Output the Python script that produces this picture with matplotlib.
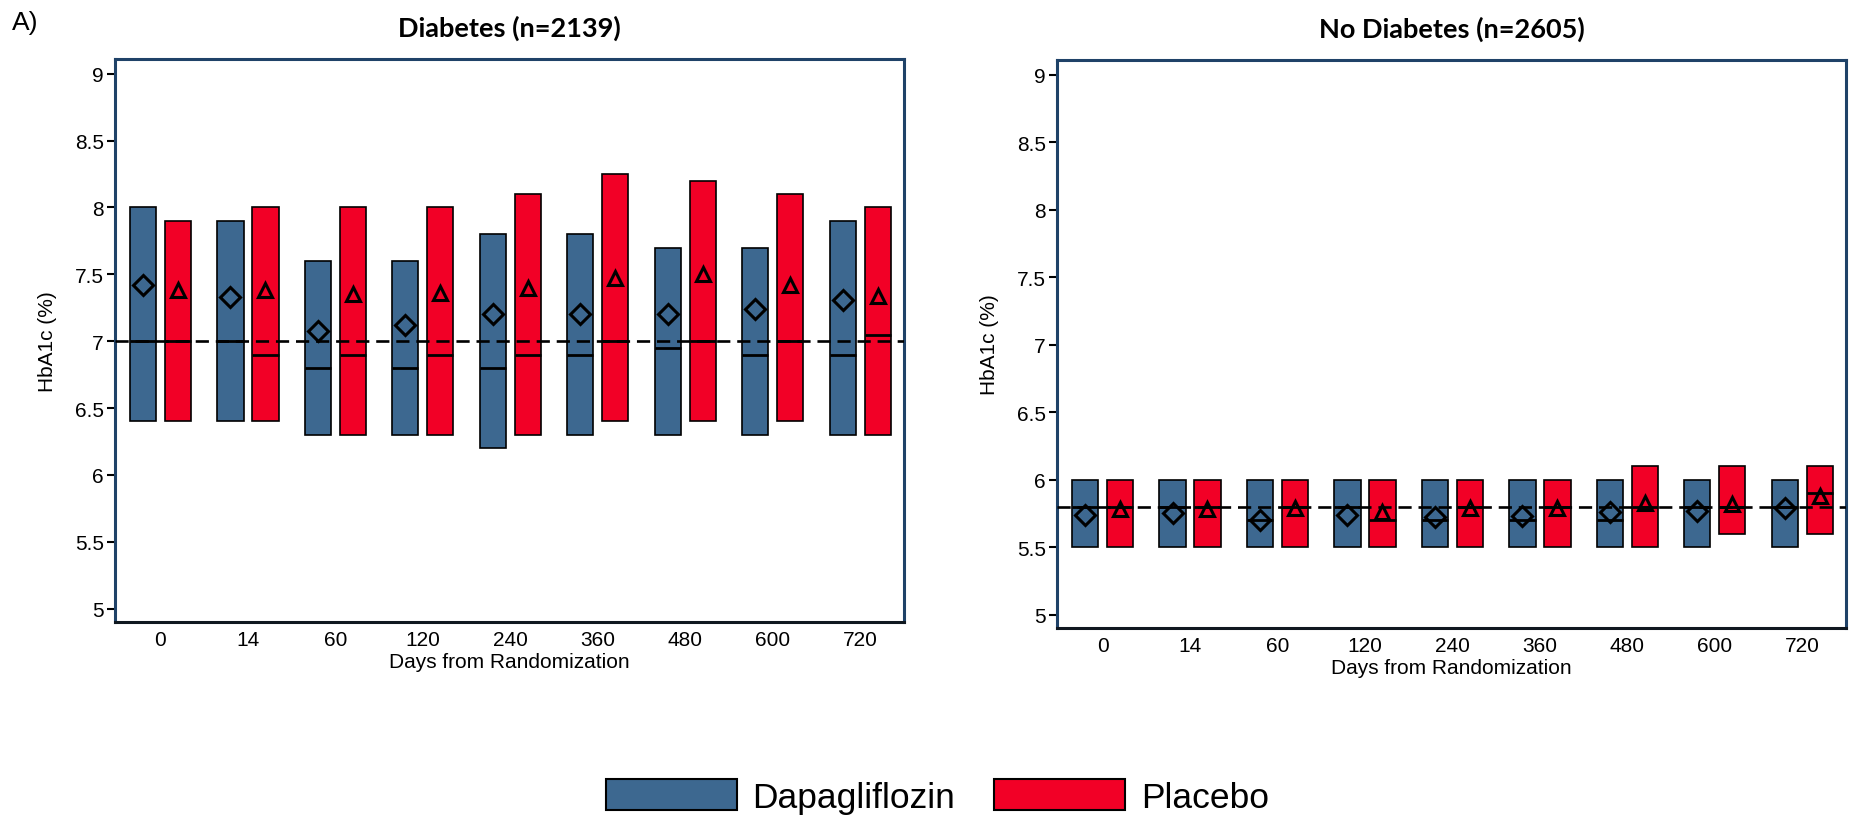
import numpy as np
import matplotlib
matplotlib.use('Agg')
import matplotlib.pyplot as plt
from matplotlib.patches import Patch

days = ['0', '14', '60', '120', '240', '360', '480', '600', '720']

# Diabetes: box = 25th-75th percentile, line = median, marker = mean
dm_dapa_q1 = [6.4, 6.4, 6.3, 6.3, 6.2, 6.3, 6.3, 6.3, 6.3]
dm_dapa_q3 = [8.0, 7.9, 7.6, 7.6, 7.8, 7.8, 7.7, 7.7, 7.9]
dm_dapa_med = [7.0, 7.0, 6.8, 6.8, 6.8, 6.9, 6.95, 6.9, 6.9]
dm_dapa_mean = [7.42, 7.33, 7.08, 7.12, 7.20, 7.20, 7.20, 7.24, 7.31]

dm_plac_q1 = [6.4, 6.4, 6.3, 6.3, 6.3, 6.4, 6.4, 6.4, 6.3]
dm_plac_q3 = [7.9, 8.0, 8.0, 8.0, 8.1, 8.25, 8.2, 8.1, 8.0]
dm_plac_med = [7.0, 6.9, 6.9, 6.9, 6.9, 7.0, 7.0, 7.0, 7.05]
dm_plac_mean = [7.38, 7.38, 7.35, 7.36, 7.40, 7.47, 7.50, 7.42, 7.34]

# No diabetes
nd_dapa_q1 = [5.5, 5.5, 5.5, 5.5, 5.5, 5.5, 5.5, 5.5, 5.5]
nd_dapa_q3 = [6.0, 6.0, 6.0, 6.0, 6.0, 6.0, 6.0, 6.0, 6.0]
nd_dapa_med = [5.8, 5.8, 5.7, 5.8, 5.7, 5.7, 5.7, 5.8, 5.8]
nd_dapa_mean = [5.74, 5.75, 5.70, 5.74, 5.72, 5.73, 5.76, 5.77, 5.79]

nd_plac_q1 = [5.5, 5.5, 5.5, 5.5, 5.5, 5.5, 5.5, 5.6, 5.6]
nd_plac_q3 = [6.0, 6.0, 6.0, 6.0, 6.0, 6.0, 6.1, 6.1, 6.1]
nd_plac_med = [5.8, 5.8, 5.8, 5.7, 5.8, 5.8, 5.8, 5.8, 5.9]
nd_plac_mean = [5.78, 5.78, 5.79, 5.76, 5.79, 5.79, 5.83, 5.82, 5.88]

ref_dm = 7.0
ref_nd = 5.8

blue = '#3D6890'
red = '#F20026'
frame = '#1F4268'
font = 'Liberation Sans'

fig = plt.figure(figsize=(18.6, 8.2), dpi=100)


def panel(ax, title, dapa, plac, ref):
    x = np.arange(len(days))
    w = 0.3
    for off, (q1, q3, med, mean), col, mk, ms in [
            (-0.2, dapa, blue, 'D', 10),
            (0.2, plac, red, '^', 10)]:
        q1 = np.array(q1)
        q3 = np.array(q3)
        ax.bar(x + off, q3 - q1, bottom=q1, width=w, color=col,
               edgecolor='black', linewidth=1.2, zorder=2)
        ax.hlines(med, x + off - w / 2, x + off + w / 2, color='black',
                  linewidth=2.0, zorder=3)
        ax.plot(x + off, mean, linestyle='none', marker=mk, markersize=ms,
                markerfacecolor='none', markeredgecolor='black',
                markeredgewidth=2.2, zorder=5)
    ax.axhline(ref, color='black', linestyle=(0, (5, 2.6)), linewidth=1.9,
               zorder=4)

    ax.set_xlim(-0.52, 8.5)
    ax.set_ylim(4.9, 9.11)
    ax.set_xticks(x)
    ax.set_xticklabels(days, fontsize=15, family=font)
    ax.tick_params(axis='x', length=0, pad=6)
    ax.set_yticks([5, 5.5, 6, 6.5, 7, 7.5, 8, 8.5, 9])
    ax.set_yticklabels(['5', '5.5', '6', '6.5', '7', '7.5', '8', '8.5', '9'],
                       fontsize=15, family=font)
    ax.tick_params(axis='y', length=6, width=1.5, pad=2)
    for s in ax.spines.values():
        s.set_color(frame)
        s.set_linewidth(2.2)
    ax.spines['bottom'].set_color('#101820')
    ax.set_xlabel('Days from Randomization', fontsize=15, family=font,
                  labelpad=2)
    ax.set_ylabel('HbA1c (%)', fontsize=15, family=font, labelpad=13)
    ax.set_title(title, fontsize=19.5, fontweight='bold', family='Lato',
                 pad=17)


ax1 = fig.add_axes([0.0618, 0.2402, 0.4242, 0.6866])
panel(ax1, 'Diabetes (n=2139)',
      (dm_dapa_q1, dm_dapa_q3, dm_dapa_med, dm_dapa_mean),
      (dm_plac_q1, dm_plac_q3, dm_plac_med, dm_plac_mean), ref_dm)

ax2 = fig.add_axes([0.5683, 0.2329, 0.4242, 0.6927])
panel(ax2, 'No Diabetes (n=2605)',
      (nd_dapa_q1, nd_dapa_q3, nd_dapa_med, nd_dapa_mean),
      (nd_plac_q1, nd_plac_q3, nd_plac_med, nd_plac_mean), ref_nd)

fig.text(0.0065, 0.972, 'A)', fontsize=19, family=font, va='center',
         ha='left')

handles = [Patch(facecolor=blue, edgecolor='black', linewidth=1.5),
           Patch(facecolor=red, edgecolor='black', linewidth=1.5)]
fig.legend(handles, ['Dapagliflozin', 'Placebo'], loc='center',
           bbox_to_anchor=(0.504, 0.028), ncol=2, frameon=False,
           prop={'family': font, 'size': 25.5}, handlelength=3.7,
           handleheight=1.0, handletextpad=0.45, columnspacing=1.1)

plt.savefig('out.png', dpi=100)
